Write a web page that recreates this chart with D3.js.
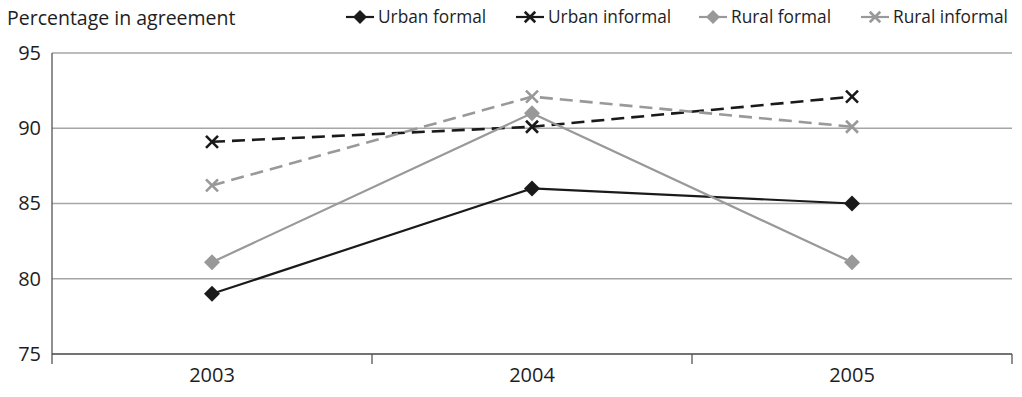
<!DOCTYPE html>
<html>
<head>
<meta charset="utf-8">
<script src="https://cdn.jsdelivr.net/npm/d3@7"></script>
<style>
  html, body { margin: 0; padding: 0; background: #fff; }
  svg { display: block; font-family: "Open Sans", "Noto Sans", sans-serif; }
</style>
</head>
<body>
<svg id="chart" width="1022" height="397"></svg>
<script>
// Survey years
const years = ["2003", "2004", "2005"];

// Percentage in agreement, one array per group
const urbanFormal   = [79.0, 86.0, 85.0];
const urbanInformal = [89.1, 90.1, 92.1];
const ruralFormal   = [81.1, 91.0, 81.1];
const ruralInformal = [86.2, 92.1, 90.1];

const seriesNames = ["Urban formal", "Urban informal", "Rural formal", "Rural informal"];
const yTicks = [75, 80, 85, 90, 95];

const series = [
  { name: seriesNames[0], values: urbanFormal,   color: "#1a1a1a", dash: null,  marker: "diamond" },
  { name: seriesNames[1], values: urbanInformal, color: "#1a1a1a", dash: "13,7", marker: "cross" },
  { name: seriesNames[2], values: ruralFormal,   color: "#999999", dash: null,  marker: "diamond" },
  { name: seriesNames[3], values: ruralInformal, color: "#999999", dash: "13,7", marker: "cross" }
];

const textColor = "#1e1e1e";
const svg = d3.select("#chart");
const plotLeft = 52, plotRight = 1012, plotTop = 53, plotBottom = 354;

const x = d3.scaleBand().domain(years).range([plotLeft, plotRight]).padding(0);
const y = d3.scaleLinear().domain([75, 95]).range([plotBottom, plotTop]);

// Horizontal gridlines
svg.append("g")
  .selectAll("line")
  .data(yTicks.filter(t => t !== 75))
  .join("line")
  .attr("x1", plotLeft).attr("x2", plotRight)
  .attr("y1", d => y(d)).attr("y2", d => y(d))
  .attr("stroke", "#a6a6a6").attr("stroke-width", 1.3);

// Y axis: labels only, plus the vertical rule
const yAxis = svg.append("g")
  .attr("transform", `translate(${plotLeft},0)`)
  .call(d3.axisLeft(y).tickValues(yTicks).tickSize(0).tickPadding(11));
yAxis.select(".domain").remove();
yAxis.selectAll("text")
  .attr("font-size", 20).attr("fill", textColor)
  .attr("font-family", "Open Sans, sans-serif");
svg.append("line")
  .attr("x1", plotLeft).attr("x2", plotLeft)
  .attr("y1", plotTop).attr("y2", plotBottom + 10)
  .attr("stroke", "#555").attr("stroke-width", 1.3);

// X axis: category labels centred in bands, ticks on band boundaries
const xAxis = svg.append("g")
  .attr("transform", `translate(0,${plotBottom})`)
  .call(d3.axisBottom(x).tickSize(0).tickPadding(14));
xAxis.select(".domain").remove();
xAxis.selectAll("text")
  .attr("font-size", 20).attr("fill", textColor)
  .attr("font-family", "Open Sans, sans-serif");

svg.append("line")
  .attr("x1", plotLeft).attr("x2", plotRight)
  .attr("y1", plotBottom).attr("y2", plotBottom)
  .attr("stroke", "#444").attr("stroke-width", 1.5);

const boundaries = years.map(d => x(d)).concat([x.range()[1]]).slice(1);
svg.append("g")
  .selectAll("line")
  .data(boundaries)
  .join("line")
  .attr("x1", d => d).attr("x2", d => d)
  .attr("y1", plotBottom).attr("y2", plotBottom + 10)
  .attr("stroke", "#555").attr("stroke-width", 1.3);

const cx = d => x(d) + x.bandwidth() / 2;

function drawMarker(g, type, color, px, py, s) {
  if (type === "diamond") {
    g.append("path")
      .attr("d", `M${px},${py - s}L${px + s},${py}L${px},${py + s}L${px - s},${py}Z`)
      .attr("fill", color);
  } else {
    const h = s * 0.75;
    g.append("path")
      .attr("d", `M${px - h},${py - h}L${px + h},${py + h}M${px - h},${py + h}L${px + h},${py - h}`)
      .attr("stroke", color).attr("stroke-width", 2.6).attr("fill", "none");
  }
}

const line = d3.line().x(d => cx(d.year)).y(d => y(d.v));

series.forEach(s => {
  const pts = years.map((yr, i) => ({ year: yr, v: s.values[i] }));
  const g = svg.append("g");
  g.append("path")
    .datum(pts)
    .attr("d", line)
    .attr("fill", "none")
    .attr("stroke", s.color)
    .attr("stroke-width", s.dash ? 2.6 : 2.2)
    .attr("stroke-dasharray", s.dash);
  pts.forEach(p => drawMarker(g, s.marker, s.color, cx(p.year), y(p.v), 8));
});

// Title above the plot
svg.append("text")
  .attr("x", 7).attr("y", 25)
  .attr("font-size", 19.5).attr("fill", textColor)
  .text("Percentage in agreement");

// Legend
const legendX = [360, 530, 713, 875];
const legendY = 17;
series.forEach((s, i) => {
  const g = svg.append("g");
  const lx = legendX[i];
  g.append("line")
    .attr("x1", lx - 14).attr("x2", lx + 14)
    .attr("y1", legendY).attr("y2", legendY)
    .attr("stroke", s.color).attr("stroke-width", 2.2);
  drawMarker(g, s.marker, s.color, lx, legendY, 7);
  g.append("text")
    .attr("x", lx + 18).attr("y", legendY + 6)
    .attr("font-size", 17.3).attr("fill", textColor)
    .text(s.name);
});
</script>
</body>
</html>
